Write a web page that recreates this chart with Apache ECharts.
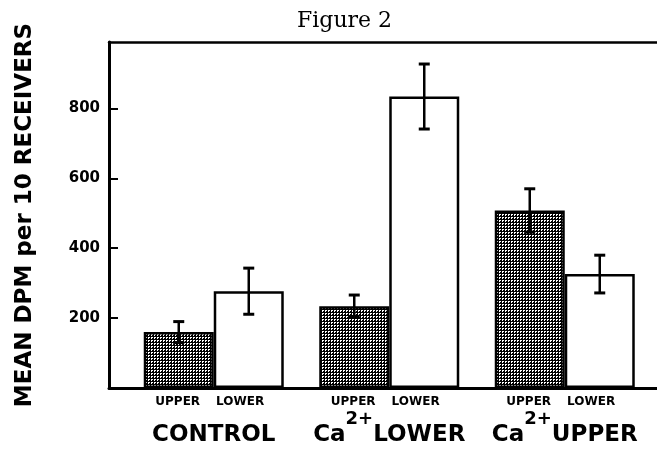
<!DOCTYPE html>
<html>
<head>
<meta charset="utf-8">
<script src="https://cdn.jsdelivr.net/npm/echarts@6/dist/echarts.min.js"></script>
<style>
html,body{margin:0;padding:0;background:#fff;}
#chart{width:657px;height:453px;}
</style>
</head>
<body>
<div id="chart"></div>
<script>
// ---- data ----
const categories = ['CONTROL', 'Ca2+LOWER', 'Ca2+UPPER'];
const subLabels = ['UPPER', 'LOWER'];
const upperValues = [160, 234, 508];
const upperErrors = [30, 32, 62];
const lowerValues = [277, 834, 326];
const lowerErrors = [66, 93, 54];
const yTicks = [200, 400, 600, 800];
const yMax = 990;
const titleText = 'Figure 2';
const yTitle = 'MEAN DPM per 10 RECEIVERS';

// hatch pattern for the UPPER bars
const pat = document.createElement('canvas');
pat.width = 3; pat.height = 3;
const pctx = pat.getContext('2d');
pctx.fillStyle = '#000'; pctx.fillRect(0, 0, 3, 3);
pctx.fillStyle = '#fff';
pctx.fillRect(1, 1, 2, 1);
pctx.fillRect(1, 2, 1, 1);

const chart = echarts.init(document.getElementById('chart'), null, {renderer: 'canvas'});

function catLabel(name) {
  const sub = '{s|' + subLabels[0] + '}{g|}{s|' + subLabels[1] + '}{p|}';
  let main;
  const m = name.match(/^Ca2\+(.*)$/);
  if (m) main = '{m|Ca}{sup|2+}{m|' + m[1] + '}';
  else main = '{m|' + name + '}';
  return sub + '\n' + main;
}

function errRender(dx) {
  return function (params, api) {
    const i = api.value(0), v = api.value(1), e = api.value(2);
    const t = api.coord([i, v + e]);
    const b = api.coord([i, v - e]);
    const x = t[0] + dx;
    const cap = 5.5;
    return {
      type: 'group',
      children: [
        {type: 'line', shape: {x1: x, y1: t[1], x2: x, y2: b[1]}, style: {stroke: '#000', lineWidth: 2.5}},
        {type: 'line', shape: {x1: x - cap, y1: t[1], x2: x + cap, y2: t[1]}, style: {stroke: '#000', lineWidth: 3}},
        {type: 'line', shape: {x1: x - cap, y1: b[1], x2: x + cap, y2: b[1]}, style: {stroke: '#000', lineWidth: 3}}
      ]
    };
  };
}

const option = {
  animation: false,
  backgroundColor: '#fff',
  title: {
    text: titleText,
    left: 297, top: 10, padding: 0,
    textStyle: {fontFamily: 'DejaVu Serif', fontSize: 22, fontWeight: 'normal', color: '#000'}
  },
  grid: [
    {left: 109, right: -6, top: 42, bottom: 65},
    {left: 126, right: 4.5, top: 42, bottom: 65}
  ],
  xAxis: [
    {gridIndex: 0, type: 'value', min: 0, max: 1, position: 'bottom',
      axisLine: {show: true, lineStyle: {color: '#000', width: 3}},
      axisTick: {show: false}, axisLabel: {show: false}, splitLine: {show: false}},
    {gridIndex: 0, type: 'value', min: 0, max: 1, position: 'top',
      axisLine: {show: true, lineStyle: {color: '#000', width: 2.5}},
      axisTick: {show: false}, axisLabel: {show: false}, splitLine: {show: false}},
    {gridIndex: 1, type: 'category', data: categories,
      axisLine: {show: false}, axisTick: {show: false},
      axisLabel: {
        interval: 0, margin: 6, color: '#000',
        formatter: catLabel,
        rich: {
          s: {fontFamily: 'DejaVu Sans', fontWeight: 'bold', fontSize: 12, lineHeight: 16, color: '#000'},
          g: {width: 16, lineHeight: 16},
          p: {width: 8, lineHeight: 16},
          m: {fontFamily: 'DejaVu Sans', fontWeight: 'bold', fontSize: 23, lineHeight: 50, color: '#000'},
          sup: {fontFamily: 'DejaVu Sans', fontWeight: 'bold', fontSize: 18, lineHeight: 14, verticalAlign: 'top', color: '#000'}
        }
      }}
  ],
  yAxis: [
    {gridIndex: 0, type: 'value', min: 0, max: yMax, interval: 200,
      name: yTitle, nameLocation: 'middle', nameRotate: 90, nameGap: 72,
      nameTextStyle: {fontFamily: 'DejaVu Sans', fontWeight: 'bold', fontSize: 23, color: '#000'},
      axisLine: {show: true, lineStyle: {color: '#000', width: 3}},
      axisTick: {show: true, inside: true, length: 9, customValues: yTicks, lineStyle: {color: '#000', width: 2}},
      axisLabel: {show: true, customValues: yTicks, margin: 9, color: '#000',
        fontFamily: 'DejaVu Sans', fontWeight: 'bold', fontSize: 15},
      splitLine: {show: false}},
    {gridIndex: 1, type: 'value', min: 0, max: yMax, show: false}
  ],
  series: [
    {type: 'bar', name: subLabels[0], xAxisIndex: 2, yAxisIndex: 1, data: upperValues,
      barWidth: 70, barGap: '0%',
      itemStyle: {color: {image: pat, repeat: 'repeat'}, borderColor: '#000', borderWidth: 2.5}},
    {type: 'bar', name: subLabels[1], xAxisIndex: 2, yAxisIndex: 1, data: lowerValues,
      barWidth: 70, barGap: '0%',
      itemStyle: {color: '#fff', borderColor: '#000', borderWidth: 2.5}},
    {type: 'custom', xAxisIndex: 2, yAxisIndex: 1, renderItem: errRender(-35),
      encode: {x: 0, y: 1}, z: 5,
      data: upperValues.map((v, i) => [i, v, upperErrors[i]])},
    {type: 'custom', xAxisIndex: 2, yAxisIndex: 1, renderItem: errRender(35),
      encode: {x: 0, y: 1}, z: 5,
      data: lowerValues.map((v, i) => [i, v, lowerErrors[i]])}
  ]
};
chart.setOption(option);
</script>
</body>
</html>
